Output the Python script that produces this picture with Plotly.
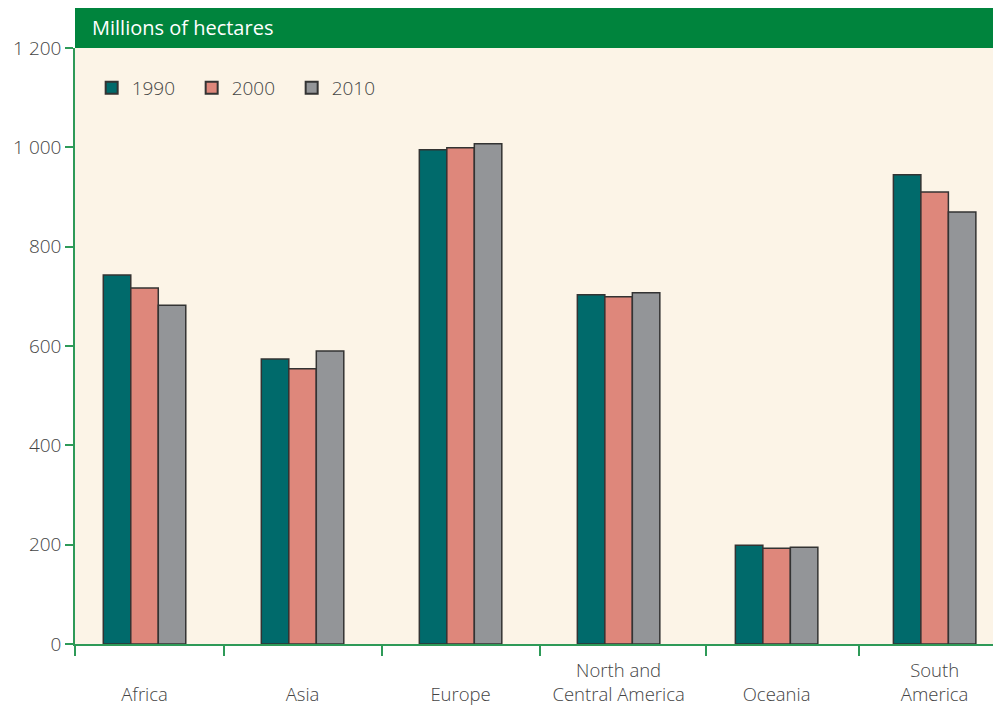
import plotly.graph_objects as go

regions = ["Africa", "Asia", "Europe", "North and<br>Central America", "Oceania", "South<br>America"]
years = ["1990", "2000", "2010"]
area_1990 = [743, 574, 995, 703, 199, 945]
area_2000 = [717, 554, 999, 699, 193, 910]
area_2010 = [682, 590, 1007, 707, 195, 870]
y_ticks = [0, 200, 400, 600, 800, 1000, 1200]
y_tick_text = ["0", "200", "400", "600", "800", "1 000", "1 200"]

colors = ["#006a6b", "#de877b", "#939598"]
GREEN = "#2e9a58"
TEXT = "#444444"
FONT = "Open Sans"

x_pos = list(range(len(regions)))
# positions of the separator ticks between regions (as drawn in the original)
sep_ticks = [-0.44, 0.5, 1.5, 2.5, 3.55, 4.52]

fig = go.Figure()
for name, vals, col in zip(years, [area_1990, area_2000, area_2010], colors):
    fig.add_trace(go.Bar(
        x=x_pos,
        y=vals,
        name=name,
        marker=dict(color=col, line=dict(color="#333333", width=1.5)),
    ))

# labels: single-line ones are pushed down so all are bottom aligned
labels = [r if "<br>" in r else "<br>" + r for r in regions]

fig.update_layout(
    width=993,
    height=700,
    margin=dict(l=67, r=0, t=40, b=64),
    paper_bgcolor="white",
    plot_bgcolor="#fcf4e7",
    barmode="group",
    bargap=0.478,
    bargroupgap=0,
    font=dict(family=FONT, size=19, color=TEXT, weight=300),
    showlegend=True,
    legend=dict(
        orientation="h",
        x=0.018, y=0.965,
        xanchor="left", yanchor="top",
        bgcolor="rgba(0,0,0,0)",
        font=dict(size=19, color=TEXT, weight=300),
        entrywidth=55,
        entrywidthmode="pixels",
        itemsizing="constant",
    ),
    xaxis=dict(
        range=[-0.44, 5.42],
        tickvals=x_pos,
        ticktext=labels,
        ticks="",
        ticklabelstandoff=9,
        automargin=False,
        showline=True,
        linecolor=GREEN,
        linewidth=1.5,
        showgrid=False,
        zeroline=False,
        tickfont=dict(size=18.5, color=TEXT, weight=300),
    ),
    xaxis2=dict(
        overlaying="x",
        matches="x",
        side="bottom",
        tickvals=sep_ticks,
        ticks="outside",
        ticklen=11,
        tickcolor=GREEN,
        tickwidth=1.5,
        showticklabels=False,
        showgrid=False,
        zeroline=False,
    ),
    yaxis=dict(
        range=[0, 1200],
        tickvals=y_ticks,
        ticktext=y_tick_text,
        ticks="outside",
        ticklen=8,
        tickcolor=GREEN,
        tickwidth=1.5,
        automargin=False,
        showline=True,
        linecolor=GREEN,
        linewidth=1.5,
        showgrid=False,
        zeroline=False,
        tickfont=dict(size=19, color=TEXT, weight=300),
    ),
)

# dummy invisible trace so xaxis2 is drawn
fig.add_trace(go.Scatter(x=[0], y=[0], xaxis="x2", mode="markers",
                         marker=dict(opacity=0), showlegend=False, hoverinfo="skip"))

# green header band above the plot
fig.add_shape(type="rect", xref="paper", yref="paper",
              x0=0, x1=1, y0=1, y1=1 + 41 / 596,
              fillcolor="#00843d", line=dict(width=0), layer="above")
fig.add_annotation(text="Millions of hectares", xref="paper", yref="paper",
                   x=15 / 926, y=1 + 20 / 596, xanchor="left", yanchor="middle",
                   showarrow=False,
                   font=dict(family=FONT, size=20, color="white", weight=400))

fig.write_html("out.html")
